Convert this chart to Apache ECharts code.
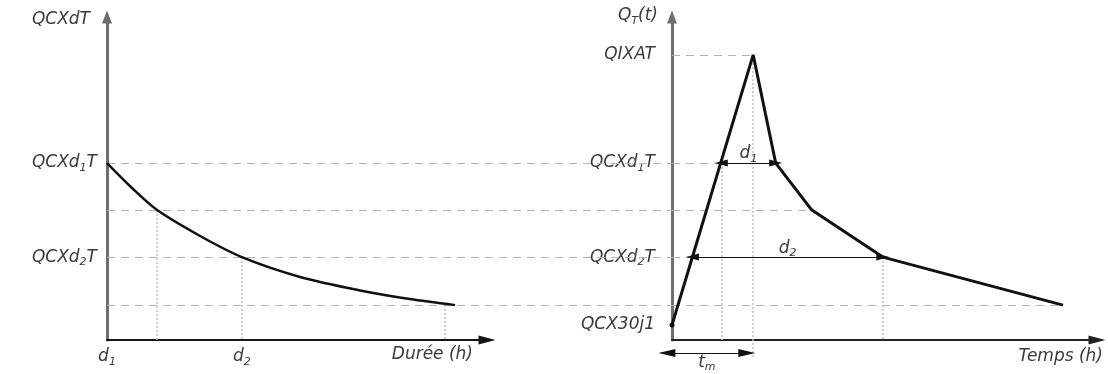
<!DOCTYPE html>
<html><head><meta charset="utf-8">
<script src="https://cdn.jsdelivr.net/npm/echarts@6/dist/echarts.min.js"></script>
<style>html,body{margin:0;padding:0;background:#fff}#c{width:1108px;height:374px}</style>
</head><body><div id="c"></div>
<script>
// ---------- data ----------
// Left chart: débit caractéristique vs durée
const curveDuree = [0, 0.66, 1.32, 2.45, 3.55, 5.08, 6.66, 7.97, 9.16];
const curveDebit = [55.3, 47.5, 40.6, 32.5, 25.9, 19.7, 15.5, 12.8, 10.9];
// Right chart: synthetic hydrograph
const hydroTemps = [0, 1.91, 2.44, 3.29, 4.96, 9.2];
const hydroDebit = [4.7, 89.1, 55.3, 40.6, 25.9, 10.9];

// left y-axis tick labels
const leftYValues = [55.3, 25.9];
const leftYLabels = ['QCXd{s|1}T', 'QCXd{s|2}T'];
// right y-axis tick labels
const rightYValues = [89.1, 55.3, 25.9, 4.7];
const rightYLabels = ['QIXAT', 'QCXd{s|1}T', 'QCXd{s|2}T', 'QCX30j1'];
// left x-axis tick labels
const leftXValues = [0, 3.55];
const leftXLabels = ['d{s|1}', 'd{s|2}'];

// dashed guides: left part runs from the left axis to the right axis position (in left-chart units)
const guideLeftLevels = [55.3, 40.6, 25.9, 10.9];
const rightAxisInLeftUnits = 14.87;
// dashed guides inside the right chart: level and end time
const guideRightLevels = [89.1, 55.3, 40.6, 25.9, 10.9];
const guideRightEnds = [1.91, 1.16, 3.29, 0.48, 9.2];

// dotted verticals, left chart: x, top level
const dotLeftX = [1.32, 3.55, 8.89];
const dotLeftTop = [40.6, 25.9, 10.9];
// dotted verticals, right chart: x, top, bottom
const dotRightX = [1.16, 1.91, 4.96];
const dotRightTop = [55.3, 89.1, 25.9];
const dotRightBottom = [0, -5.6, 0];

// dimension arrows (right chart)
const arrowNames = ['d{s|1}', 'd{s|2}'];
const arrowFrom = [1.16, 0.48];
const arrowTo = [2.44, 4.96];
const arrowLevel = [55.3, 25.9];
const tmName = 't{s|m}';
const tmFrom = -0.12, tmTo = 1.76, tmLevel = -4.1;

// ---------- styles ----------
const FONT = 'DejaVu Sans';
const TXT = '#3a3a3a';
const rich = {
  s: {fontFamily: FONT, fontStyle: 'italic', fontSize: 11, color: TXT, verticalAlign: 'bottom', lineHeight: 12}
};
const baseText = {fontFamily: FONT, fontStyle: 'italic', fontSize: 17, color: TXT, lineHeight: 22, rich: rich};

function pick(vals, labels) {
  return function (v) {
    const i = vals.findIndex(x => Math.abs(x - v) < 1e-6);
    return i >= 0 ? labels[i] : '';
  };
}

function guideSeries(axis, coordsList, style) {
  return {
    type: 'lines', coordinateSystem: 'cartesian2d', xAxisIndex: axis, yAxisIndex: axis,
    clip: false, silent: true, z: 1, symbol: 'none',
    lineStyle: Object.assign({opacity: 1, curveness: 0}, style),
    data: coordsList.map(c => ({coords: c}))
  };
}
const DASH = {color: '#b3b3b3', width: 1, type: [8, 6]};
const DOT = {color: '#bdbdbd', width: 1.5, type: [2, 2]};

const series = [];
series.push(guideSeries(0, guideLeftLevels.map(y => [[0, y], [rightAxisInLeftUnits, y]]), DASH));
series.push(guideSeries(1, guideRightLevels.map((y, i) => [[0, y], [guideRightEnds[i], y]]), DASH));
series.push(guideSeries(0, dotLeftX.map((x, i) => [[x, dotLeftTop[i]], [x, 0]]), DOT));
series.push(guideSeries(1, dotRightX.map((x, i) => [[x, dotRightTop[i]], [x, dotRightBottom[i]]]), DOT));

// left curve
series.push({
  type: 'line', xAxisIndex: 0, yAxisIndex: 0, symbol: 'none', smooth: 0.3, z: 5,
  lineStyle: {color: '#111', width: 2.5},
  data: curveDuree.map((x, i) => [x, curveDebit[i]])
});
// hydrograph
series.push({
  type: 'line', xAxisIndex: 1, yAxisIndex: 1, z: 5,
  lineStyle: {color: '#111', width: 3},
  itemStyle: {color: '#111'},
  data: hydroTemps.map((x, i) => i === 0
    ? {value: [x, hydroDebit[i]], symbol: 'circle', symbolSize: 5}
    : {value: [x, hydroDebit[i]], symbol: 'none'})
});
// dimension arrows d1, d2
series.push({
  type: 'lines', coordinateSystem: 'cartesian2d', xAxisIndex: 1, yAxisIndex: 1, clip: false, z: 6,
  symbol: ['triangle', 'triangle'], symbolSize: [[7, 13], [7, 13]],
  symbolOffset: [[0, 6.5], [0, 6.5]],
  lineStyle: {color: '#111', width: 1.2, opacity: 1, curveness: 0},
  label: Object.assign({show: true, position: 'middle', distance: -2, formatter: p => p.name}, baseText),
  data: arrowNames.map((n, i) => ({
    name: n,
    coords: [[arrowFrom[i], arrowLevel[i]], [arrowTo[i], arrowLevel[i]]]
  }))
});
// tm arrow
series.push({
  type: 'lines', coordinateSystem: 'cartesian2d', xAxisIndex: 1, yAxisIndex: 1, clip: false, z: 6,
  symbol: ['triangle', 'triangle'], symbolSize: [[8, 17], [8, 17]],
  symbolOffset: [[0, 8.5], [0, 8.5]],
  lineStyle: {color: '#111', width: 1.2, opacity: 1, curveness: 0},
  label: Object.assign({show: true, position: 'middle', distance: -20, formatter: p => p.name}, baseText),
  data: [{name: tmName, coords: [[tmFrom, tmLevel], [tmTo, tmLevel]]}]
});

const yAxisCommon = {
  type: 'value', min: 0, max: 100, splitLine: {show: false},
  axisTick: {show: false},
  axisLine: {show: true, lineStyle: {color: '#6e6e6e', width: 3},
    symbol: ['none', 'triangle'], symbolSize: [10, 13], symbolOffset: [0, 3]}
};

const option = {
  animation: false,
  backgroundColor: '#fff',
  grid: [
    {left: 107, top: 20, width: 380, height: 320},
    {left: 672, top: 20, width: 425, height: 320}
  ],
  xAxis: [
    {gridIndex: 0, type: 'value', min: 0, max: 10, splitLine: {show: false},
      axisLine: {show: true, lineStyle: {color: '#151515', width: 2},
        symbol: ['none', 'triangle'], symbolSize: [9, 17]},
      axisTick: {show: false},
      axisLabel: Object.assign({show: true, margin: 6, customValues: leftXValues,
        formatter: pick(leftXValues, leftXLabels)}, baseText),
      name: 'Durée (h)', nameLocation: 'end', nameGap: -14,
      nameTextStyle: Object.assign({}, baseText, {align: 'right', verticalAlign: 'top', padding: [4, 0, 0, 0]})
    },
    {gridIndex: 1, type: 'value', min: 0, max: 10, splitLine: {show: false},
      axisLine: {show: true, lineStyle: {color: '#222', width: 2},
        symbol: ['none', 'triangle'], symbolSize: [9, 17]},
      axisTick: {show: false},
      axisLabel: {show: false},
      name: 'Temps (h)', nameLocation: 'end', nameGap: 6,
      nameTextStyle: Object.assign({}, baseText, {align: 'right', verticalAlign: 'top', padding: [6, 0, 0, 0]})
    }
  ],
  yAxis: [
    Object.assign({}, yAxisCommon, {gridIndex: 0,
      axisLabel: Object.assign({show: true, margin: 10, customValues: leftYValues,
        formatter: pick(leftYValues, leftYLabels)}, baseText),
      name: 'QCXdT', nameLocation: 'end', nameGap: 0,
      nameTextStyle: Object.assign({}, baseText, {align: 'right', verticalAlign: 'middle', padding: [0, 17, 0, 0]})
    }),
    Object.assign({}, yAxisCommon, {gridIndex: 1,
      axisLabel: Object.assign({show: true, margin: 14, customValues: rightYValues,
        backgroundColor: '#fff', padding: [0, 3],
        formatter: pick(rightYValues, rightYLabels)}, baseText),
      name: 'Q{s|T}(t)', nameLocation: 'end', nameGap: 4,
      nameTextStyle: Object.assign({}, baseText, {align: 'right', verticalAlign: 'middle', padding: [0, 14, 0, 0]})
    })
  ],
  series: series
};

const chart = echarts.init(document.getElementById('c'), null, {renderer: 'canvas'});
chart.setOption(option);
</script></body></html>
